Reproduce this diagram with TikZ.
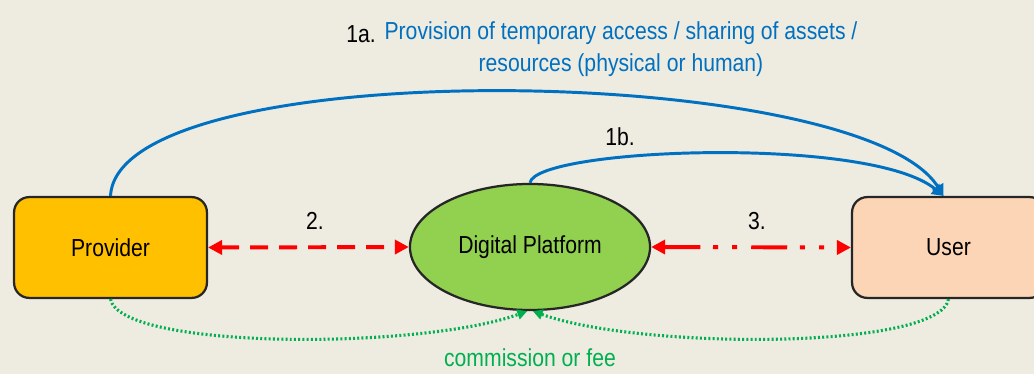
\documentclass[tikz,border=0pt]{standalone}
\usepackage{fontspec}
\setmainfont{Liberation Sans}[FakeStretch=0.86]
\usetikzlibrary{shapes,arrows.meta,positioning}

\definecolor{bgbeige}{HTML}{EEEBE1}
\definecolor{provgold}{HTML}{FFC000}
\definecolor{userpeach}{HTML}{FBD5B5}
\definecolor{platgreen}{HTML}{92D050}
\definecolor{flowblue}{HTML}{0070C0}
\definecolor{feegreen}{HTML}{00B050}

\begin{document}
\begin{tikzpicture}[x=0.025cm,y=-0.025cm,
    party/.style={draw=black!85,line width=1.6pt,rounded corners=0.38cm,
        minimum width=4.82cm,minimum height=2.52cm,font=\fontsize{17.5}{20}\selectfont},
    platform/.style={ellipse,draw=black!85,line width=1.6pt,fill=platgreen,
        minimum width=6cm,minimum height=3.15cm,inner sep=0pt,font=\fontsize{17.5}{20}\selectfont},
    redlink/.style={red,line width=2.8pt,
        {Triangle[length=10pt,width=10pt]}-{Triangle[length=10pt,width=10pt]}},
    bluelink/.style={flowblue,line width=2.1pt,-{Triangle[length=8pt,width=9pt]}},
    feelink/.style={feegreen,line width=2.2pt,dash pattern=on 1.4pt off 1.6pt,
        -{Triangle[length=7pt,width=7pt]}},
    steplabel/.style={font=\fontsize{17.5}{20}\selectfont}]

    %%background
    \fill[bgbeige] (0,0) rectangle (1034,374);
    \useasboundingbox (0,0) rectangle (1034,374);

    %%actors
    \node[party,fill=provgold] (provider) at (110.5,247.5) {Provider};
    \node[party,fill=userpeach] (user) at (948.5,247.5) {User};
    \node[platform] (platform) at (530,247) {Digital Platform};

    %%exchanges
    \draw[redlink,dash pattern=on 12.8pt off 7.8pt] (provider.east) -- (platform.west);
    \draw[redlink,dash pattern=on 25.6pt off 9pt on 3.6pt off 10pt on 3.6pt off 10pt]
        (platform.east) -- (user.west);
    \draw[bluelink] (provider.north) .. controls (118,52) and (860,62) .. ([xshift=-3.5pt]user.north);
    \draw[bluelink] (platform.north) .. controls (535,148) and (870,135) .. ([xshift=-3.5pt]user.north);
    \draw[feelink] (provider.south) .. controls (120,350) and (420,350) .. ([xshift=-2pt]platform.south);
    \draw[feelink] (user.south) .. controls (940,350) and (640,350) .. ([xshift=2pt]platform.south);

    %%labels
    \node[steplabel,text=flowblue,align=center] (text1a) at (621,49)
        {Provision of temporary access / sharing of assets /\\[2.5pt] resources (physical or human)};
    \node[steplabel] (num1a) at (361,34) {1a.};
    \node[steplabel] (text1b) at (620,137) {1b.};
    \node[steplabel] (text2) at (315,221) {2.};
    \node[steplabel] (text3) at (757,221) {3.};
    \node[steplabel,text=feegreen] (textfee) at (530,358) {commission or fee};

\end{tikzpicture}
\end{document}
